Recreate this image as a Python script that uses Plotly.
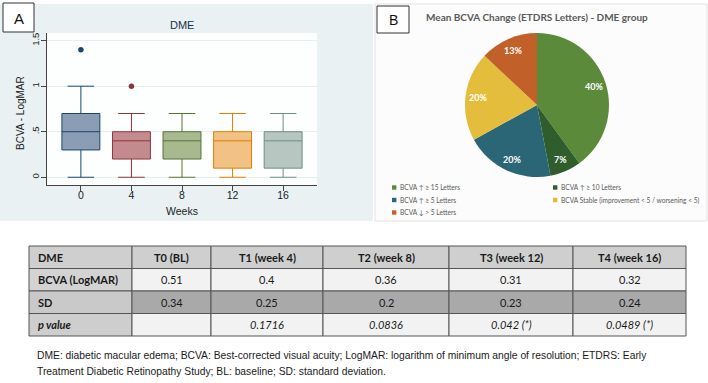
import math
import plotly.graph_objects as go

W, H = 708, 383

# ---------------- data ----------------
weeks = ["0", "4", "8", "12", "16"]
q1 = [0.3, 0.2, 0.2, 0.1, 0.1]
medians = [0.5, 0.4, 0.4, 0.4, 0.4]
q3 = [0.7, 0.5, 0.5, 0.5, 0.5]
lower_whisker = [0.0, 0.0, 0.0, 0.0, 0.0]
upper_whisker = [1.0, 0.7, 0.7, 0.7, 0.7]
outlier_weeks = ["0", "4"]
outlier_values = [1.4, 1.0]
y_tick_vals = [0, 0.5, 1, 1.5]
y_tick_text = ["0", ".5", "1", "1.5"]

pie_labels = ["BCVA ↑ ≥ 15 Letters", "BCVA ↑ ≥ 10 Letters", "BCVA ↑ ≥ 5 Letters",
              "BCVA Stable (improvement &lt; 5 / worsening &lt; 5)", "BCVA ↓ &gt; 5 Letters"]
pie_values = [40, 7, 20, 20, 13]

table_columns = ["DME", "T0 (BL)", "T1 (week 4)", "T2 (week 8)", "T3 (week 12)", "T4 (week 16)"]
row_labels = ["BCVA (LogMAR)", "SD", "p value"]
bcva_mean = ["0.51", "0.4", "0.36", "0.31", "0.32"]
bcva_sd = ["0.34", "0.25", "0.2", "0.23", "0.24"]
p_values = ["", "0.1716", "0.0836", "0.042 (*)", "0.0489 (*)"]

caption_lines = [
    "DME: diabetic macular edema; BCVA: Best-corrected visual acuity; LogMAR: logarithm of minimum angle of resolution; ETDRS: Early",
    "Treatment Diabetic Retinopathy Study; BL: baseline; SD: standard deviation.",
]

# ---------------- styles ----------------
box_fill = ["#8b9db5", "#c48b8f", "#a9b98f", "#f1c283", "#b8c6c1"]
box_line = ["#1a476f", "#90353b", "#55752f", "#e37e00", "#6e8e84"]
pie_colors = ["#5b8a3a", "#2f5d2c", "#2b6676", "#e3bd3b", "#c2602a"]
SANS = "Liberation Sans, Arial, sans-serif"
CAL = "Lato, sans-serif"


def fx(px):
    return px / W


def fy(py):
    return 1 - py / H


fig = go.Figure()
shapes = []
ann = []


def add_text(text, x, y, size, color="#222222", family=SANS, xanchor="center", angle=0):
    ann.append(dict(text=text, x=fx(x), y=fy(y), xref="paper", yref="paper", showarrow=False,
                    xanchor=xanchor, yanchor="middle", textangle=angle,
                    font=dict(size=size, color=color, family=family)))


def add_rect(x0, y0, x1, y1, fill, line_color=None, line_width=0, layer="above"):
    shapes.append(dict(type="rect", xref="paper", yref="paper", x0=fx(x0), x1=fx(x1),
                       y0=fy(y1), y1=fy(y0), fillcolor=fill, layer=layer,
                       line=dict(color=line_color or fill, width=line_width)))


# ---------------- backgrounds ----------------
add_rect(0, 4, 373, 221, "#e9f1f3", layer="below")
add_rect(47, 33, 317, 185, "#fdfefe", layer="below")
add_rect(375, 4, 707, 221, "#fcfcfc", "#e3e3e3", 1, layer="below")
add_rect(3, 3, 34, 32, "white", "#333333", 1)
add_rect(377, 6, 409, 33, "white", "#333333", 1)

# ---------------- panel A: box plot ----------------
for i, wk in enumerate(weeks):
    fig.add_trace(go.Box(
        x=[wk], q1=[q1[i]], median=[medians[i]], q3=[q3[i]],
        lowerfence=[lower_whisker[i]], upperfence=[upper_whisker[i]],
        fillcolor=box_fill[i], line=dict(color=box_line[i], width=1),
        width=0.75, whiskerwidth=0.7, boxpoints=False, showlegend=False,
        hoverinfo="skip", xaxis="x", yaxis="y"))

fig.add_trace(go.Scatter(
    x=outlier_weeks, y=outlier_values, mode="markers",
    marker=dict(color=[box_line[weeks.index(w)] for w in outlier_weeks], size=5.5),
    showlegend=False, hoverinfo="skip", xaxis="x", yaxis="y"))

fig.update_layout(
    xaxis=dict(type="category", categoryorder="array", categoryarray=weeks,
               range=[-0.67, 4.67], domain=[fx(47), fx(317)], anchor="y",
               showline=True, linecolor="#444444", linewidth=1, ticks="outside",
               ticklen=5, tickcolor="#444444", ticklabelstandoff=-5,
               tickfont=dict(family=SANS, size=10.5, color="#222222"),
               showgrid=False, zeroline=False, automargin=False),
    yaxis=dict(range=[-0.085, 1.584], domain=[fy(185), fy(33)], anchor="x",
               tickvals=y_tick_vals, ticktext=y_tick_text, tickangle=-90,
               showline=True, linecolor="#444444", linewidth=1, ticks="outside",
               ticklen=5, tickcolor="#444444", ticklabelstandoff=-2,
               tickfont=dict(family=SANS, size=9.5, color="#222222"),
               showgrid=True, gridcolor="#e6eef0", gridwidth=1, zeroline=False,
               automargin=False),
)

add_text("A", 18.5, 18, 15, "#111111")
add_text("DME", 182, 25, 11, "#1c2f4e")
add_text("BCVA - LogMAR", 20, 113, 10, "#222222", angle=-90)
add_text("Weeks", 182, 211, 10.5, "#222222")

# ---------------- panel B: pie ----------------
pie_cx, pie_cy, pie_r = 537, 105, 72
fig.add_trace(go.Pie(
    labels=pie_labels, values=pie_values, sort=False, direction="clockwise", rotation=0,
    marker=dict(colors=pie_colors, line=dict(width=0)), textinfo="none",
    domain=dict(x=[fx(pie_cx - pie_r), fx(pie_cx + pie_r)], y=[fy(pie_cy + pie_r), fy(pie_cy - pie_r)]),
    showlegend=False, hoverinfo="skip"))

total = sum(pie_values)
cum = 0
for v in pie_values:
    mid = (cum + v / 2) / total * 2 * math.pi
    cum += v
    lx = pie_cx + 0.83 * pie_r * math.sin(mid)
    ly = pie_cy - 0.83 * pie_r * math.cos(mid)
    add_text(f"<b>{round(100 * v / total)}%</b>", lx, ly, 9, "white", family=CAL)

add_text("B", 393, 20, 14, "#111111")
add_text("<b>Mean BCVA Change (ETDRS Letters) - DME group</b>", 537, 17, 10, "#595959", family=CAL)

leg_x = [392, 553]
leg_y = [187.5, 200, 212.5]
for i, lab in enumerate(pie_labels):
    lx, ly = leg_x[i % 2], leg_y[i // 2]
    add_rect(lx, ly - 2.2, lx + 4.4, ly + 2.2, pie_colors[i])
    add_text(lab, lx + 6, ly, 6.6, "#595959", family=CAL, xanchor="left")

# ---------------- table ----------------
col_edges = [29, 132, 211, 323, 449, 573, 686]
row_edges = [246, 268.5, 291, 313.5, 336]
rows = [
    [f"<b>{c}</b>" for c in table_columns],
    [f"<b>{row_labels[0]}</b>"] + bcva_mean,
    [f"<b>{row_labels[1]}</b>"] + bcva_sd,
    [f"<b><i>{row_labels[2]}</i></b>"] + [f"<i>{p}</i>" if p else "" for p in p_values],
]
row_fill = ["#cfcfcf", "#f2f2f2", "#a9a9a9", "#f2f2f2"]
label_fill = ["#cfcfcf", "#d3d3d3", "#c9c9c9", "#cecece"]
for r, row in enumerate(rows):
    y0, y1 = row_edges[r], row_edges[r + 1]
    for c, val in enumerate(row):
        x0, x1 = col_edges[c], col_edges[c + 1]
        add_rect(x0, y0, x1, y1, label_fill[r] if c == 0 else row_fill[r], "#555555", 1)
        if val:
            if c == 0:
                add_text(val, x0 + 7, (y0 + y1) / 2, 11, "#1a1a1a", family=CAL, xanchor="left")
            else:
                add_text(val, (x0 + x1) / 2, (y0 + y1) / 2, 11, "#1a1a1a", family=CAL)

# ---------------- caption ----------------
for k, line in enumerate(caption_lines):
    add_text(line, 35, 355 + 16 * k, 10.3, "#1a1a1a", xanchor="left")

fig.update_layout(width=W, height=H, margin=dict(l=0, r=0, t=0, b=0),
                  paper_bgcolor="white", plot_bgcolor="white", hovermode=False,
                  shapes=shapes, annotations=ann, showlegend=False)

fig.write_html("out.html", config={"displayModeBar": False},
               post_script="document.body.style.margin='0px';")
